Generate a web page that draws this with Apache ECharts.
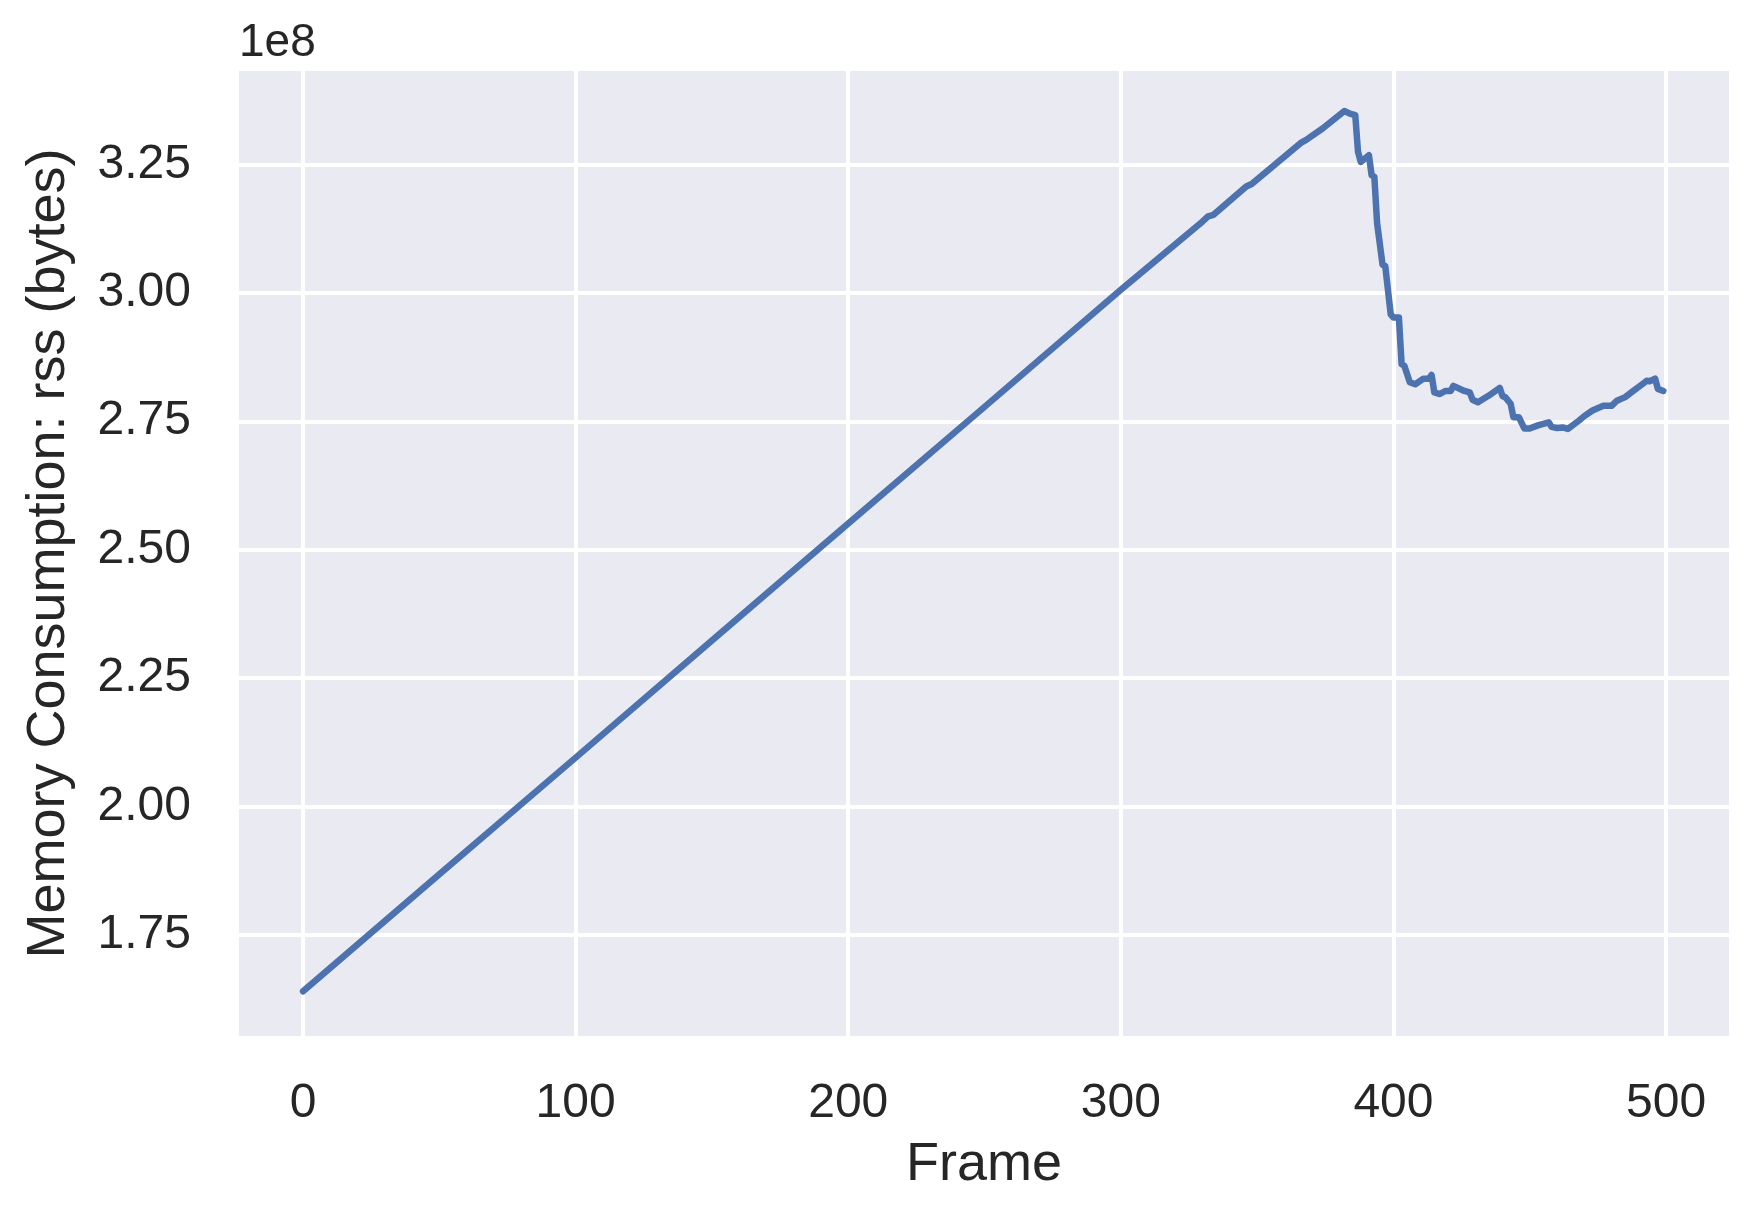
<!DOCTYPE html>
<html>
<head>
<meta charset="utf-8">
<script src="https://cdn.jsdelivr.net/npm/echarts@6/dist/echarts.min.js"></script>
<style>html,body{margin:0;padding:0;background:#fff}#c{width:1762px;height:1210px}</style>
</head>
<body>
<div id="c"></div>
<script>
// Frame numbers and rss memory (in units of 1e8 bytes)
const frames = [0, 50, 100, 150, 200, 250, 300, 330, 332, 334, 346, 348, 366, 368, 374, 378, 382, 384, 386, 387, 388, 391, 392, 393, 394, 396, 397, 399, 400, 402, 403, 404, 406, 408, 411, 413, 414, 415, 417, 419, 421, 422, 426, 428, 429, 431, 435, 439, 440, 441, 443, 444, 446, 448, 450, 453, 457, 458, 460, 462, 464, 468, 470, 473, 477, 480, 482, 485, 488, 492, 493, 494, 496, 497, 499];
const rss = [1.640, 1.868, 2.095, 2.323, 2.551, 2.778, 3.006, 3.139, 3.149, 3.152, 3.207, 3.212, 3.292, 3.298, 3.320, 3.337, 3.354, 3.349, 3.346, 3.275, 3.255, 3.268, 3.229, 3.226, 3.136, 3.055, 3.052, 2.958, 2.952, 2.952, 2.861, 2.858, 2.826, 2.822, 2.833, 2.833, 2.840, 2.806, 2.803, 2.809, 2.809, 2.819, 2.809, 2.806, 2.792, 2.787, 2.800, 2.815, 2.799, 2.797, 2.784, 2.758, 2.758, 2.736, 2.736, 2.742, 2.748, 2.739, 2.737, 2.738, 2.735, 2.751, 2.760, 2.771, 2.780, 2.780, 2.790, 2.797, 2.809, 2.825, 2.829, 2.828, 2.833, 2.813, 2.809];
const xTicks = [0, 100, 200, 300, 400, 500];
const yTicks = [1.75, 2.00, 2.25, 2.50, 2.75, 3.00, 3.25];
const xTitle = 'Frame';
const yTitle = 'Memory Consumption: rss (bytes)';
const offsetText = '1e8';

const FONT = '"Liberation Sans", Arial, sans-serif';
const TXT = '#262626';
const chart = echarts.init(document.getElementById('c'), null, {renderer: 'canvas'});
chart.setOption({
  backgroundColor: '#ffffff',
  animation: false,
  grid: {left: 239, right: 33, top: 71, bottom: 174, show: true, backgroundColor: '#eaeaf2', borderWidth: 0},
  graphic: [{
    type: 'text', left: 239, top: 20,
    style: {text: offsetText, font: '46px ' + FONT, fill: TXT}
  }],
  xAxis: {
    type: 'value', min: -23.5, max: 523.1,
    name: xTitle, nameLocation: 'middle', nameGap: 102,
    nameTextStyle: {fontFamily: FONT, fontSize: 54, color: TXT},
    axisLine: {show: false},
    axisTick: {show: false, customValues: xTicks},
    axisLabel: {customValues: xTicks, margin: 44, fontFamily: FONT, fontSize: 48, color: TXT},
    splitLine: {show: true, lineStyle: {color: '#ffffff', width: 4}}
  },
  yAxis: {
    type: 'value', min: 1.553, max: 3.432,
    name: yTitle, nameLocation: 'middle', nameGap: 163, nameRotate: 90,
    nameTextStyle: {fontFamily: FONT, fontSize: 54, color: TXT},
    axisLine: {show: false},
    axisTick: {show: false, customValues: yTicks},
    axisLabel: {customValues: yTicks, margin: 48, fontFamily: FONT, fontSize: 48, color: TXT,
      formatter: v => v.toFixed(2)},
    splitLine: {show: true, lineStyle: {color: '#ffffff', width: 4}}
  },
  series: [{
    type: 'line',
    data: frames.map((f, i) => [f, rss[i]]),
    showSymbol: false,
    lineStyle: {color: '#4c72b0', width: 6.5, join: 'round', cap: 'round'},
    itemStyle: {color: '#4c72b0'}
  }]
});
</script>
</body>
</html>
